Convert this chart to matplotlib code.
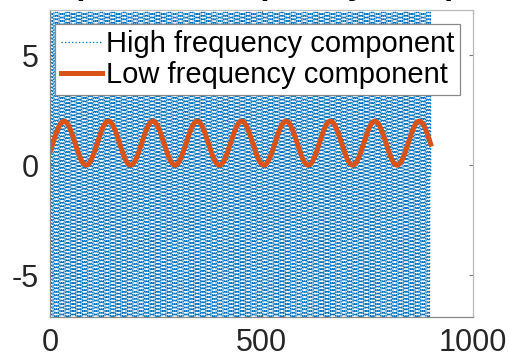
import numpy as np
import matplotlib
matplotlib.use("Agg")
import matplotlib.pyplot as plt

plt.rcParams['font.family'] = ['Liberation Sans', 'DejaVu Sans']
plt.rcParams['axes.unicode_minus'] = False

# time axis and the two signal components
t_end = 900.0
t_step = 0.1
high_amp = 6.95        # high frequency component amplitude
high_period = 4.1      # in time units
low_offset = 1.0       # low frequency component: offset, amplitude, period, first peak
low_amp = 1.0
low_period = 105.0
low_peak = 33.0

x_ticks = [0, 500, 1000]
y_ticks = [-5, 0, 5]
labels = ["High frequency component", "Low frequency component"]

t = np.arange(0, t_end + t_step / 2, t_step)
high = high_amp * np.sin(2 * np.pi * t / high_period)
low = low_offset + low_amp * np.cos(2 * np.pi * (t - low_peak) / low_period)

fig = plt.figure(figsize=(5.09, 3.6), dpi=100)
ax = fig.add_axes([50 / 509, 1 - 317 / 360, 423 / 509, 307 / 360])

ax.plot(t, high, ':', color='#0072BD', lw=0.95, label=labels[0])
ax.plot(t, low, '-', color='#D95319', lw=3.6, label=labels[1])

ax.set_xlim(0, 1000)
ax.set_ylim(-6.9, 7.05)
ax.set_xticks(x_ticks)
ax.set_yticks(y_ticks)
ax.tick_params(direction='in', length=3, width=0.8, colors='#777777',
               labelcolor='#262626', labelsize=22, top=True, right=True, pad=8)
for side, sp in ax.spines.items():
    sp.set_color('#888888' if side in ('left', 'bottom') else '#bbbbbb')
    sp.set_linewidth(0.9)

leg = ax.legend(loc='upper left', bbox_to_anchor=(55 / 509, 1 - 24 / 360),
                bbox_transform=fig.transFigure, borderaxespad=0, fontsize=21,
                handlelength=1.4, handletextpad=0.15, labelspacing=0.12,
                borderpad=0.2, fancybox=False, framealpha=1)
leg.get_frame().set_edgecolor('#888888')
leg.get_frame().set_linewidth(0.9)

fig.text(261 / 509, 1 + 6 / 360, "Signal split into frequency components",
         ha='center', va='baseline', fontsize=24, fontweight='bold')

fig.savefig("out.png", dpi=100)
